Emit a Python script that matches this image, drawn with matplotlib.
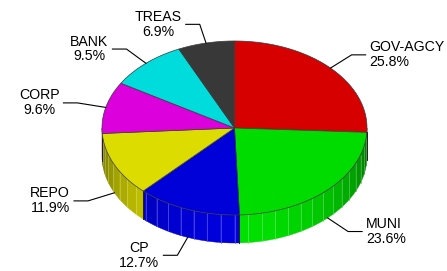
import numpy as np
import matplotlib
matplotlib.use("Agg")
import matplotlib.pyplot as plt
from matplotlib.colors import to_rgb

# portfolio split, clockwise from 12 o'clock
labels = ["GOV-AGCY", "MUNI", "CP", "REPO", "CORP", "BANK", "TREAS"]
shares = [25.8, 23.6, 12.7, 11.9, 9.6, 9.5, 6.9]
colors = ["#D60000", "#00DC00", "#0000D8", "#DCDC00", "#DC00DC", "#00DCDC", "#383838"]

plt.rcParams['font.family'] = ['Liberation Sans', 'DejaVu Sans']

fig = plt.figure(figsize=(4.47, 2.71), dpi=100)
ax = fig.add_axes([0, 0, 1, 1])
ax.set_xlim(0, 447)
ax.set_ylim(271, 0)
ax.axis("off")

# ellipse geometry in pixel units
cx, cy = 234.5, 128.0
rx, ry = 132.5, 87.0
depth = 28.0


def pt(a, dz=0.0):
    r = np.radians(a)
    return cx + rx * np.cos(r), cy - ry * np.sin(r) + dz


def shade(c, f):
    return tuple(min(1.0, v * f) for v in to_rgb(c))


def lighten(c, t):
    return tuple(v + (1 - v) * t for v in c)


vals = np.array(shares, dtype=float)
spans = vals / vals.sum() * 360.0
starts = 90.0 - np.concatenate([[0], np.cumsum(spans)[:-1]])
ends = starts - spans

# side of the cake (front half only, angles between -180 and 0)
step = 6.0
for a0, a1, col in zip(starts, ends, colors):
    hi = min(a0, 0.0)
    lo = max(a1, -180.0)
    if hi <= lo:
        continue
    grid = np.arange(np.ceil(lo / step) * step, hi, step)
    edges = np.unique(np.concatenate([[lo], grid, [hi]]))
    for e0, e1 in zip(edges[:-1], edges[1:]):
        mid = 0.5 * (e0 + e1)
        f = 0.5 + 0.52 * (-np.sin(np.radians(mid)))
        fc = shade(col, f)
        aa = np.linspace(e0, e1, 6)
        top = [pt(a) for a in aa]
        bot = [pt(a, depth) for a in aa[::-1]]
        ax.fill([p[0] for p in top + bot], [p[1] for p in top + bot],
                color=fc, lw=0.3, ec=fc, zorder=1)
    for g in grid:
        if lo < g < hi:
            f = 0.5 + 0.52 * (-np.sin(np.radians(g)))
            lc = lighten(shade(col, f), 0.35)
            x0, y0 = pt(g)
            x1, y1 = pt(g, depth)
            ax.plot([x0, x1], [y0, y1], color=lc, lw=0.5, zorder=2)
    # wedge boundaries on the side
    for b in (a0, a1):
        if -180.0 < b < 0.0:
            x0, y0 = pt(b)
            x1, y1 = pt(b, depth)
            ax.plot([x0, x1], [y0, y1], color="#202020", lw=0.6, zorder=3)

# top face
for a0, a1, col in zip(starts, ends, colors):
    aa = np.linspace(a0, a1, 80)
    xs = [cx] + [pt(a)[0] for a in aa]
    ys = [cy] + [pt(a)[1] for a in aa]
    ax.fill(xs, ys, color=col, ec="#3a3a3a", lw=0.5, zorder=4)

# leaders and labels
for a0, a1, lab, v in zip(starts, ends, labels, shares):
    mid = 0.5 * (a0 + a1)
    front = np.sin(np.radians(mid)) < 0
    dz = depth if front else 0.0
    ax_, ay_ = pt(mid, dz)
    rcx, rcy = cx, cy + dz
    ex, ey = rcx + 1.22 * (ax_ - rcx), rcy + 1.22 * (ay_ - rcy)
    side = 1 if np.cos(np.radians(mid)) > 0 else -1
    hx = ex + side * 14
    ax.plot([ax_, ex, hx], [ay_, ey, ey], color="black", lw=0.8, zorder=5)
    ax.text(hx + side * 4, ey, f"{lab}\n{v:.1f}%", fontsize=10.2,
            ha="left" if side > 0 else "right",
            multialignment="left" if side > 0 else "center",
            va="center", linespacing=1.08, zorder=6)

fig.savefig("out.png", dpi=100)
